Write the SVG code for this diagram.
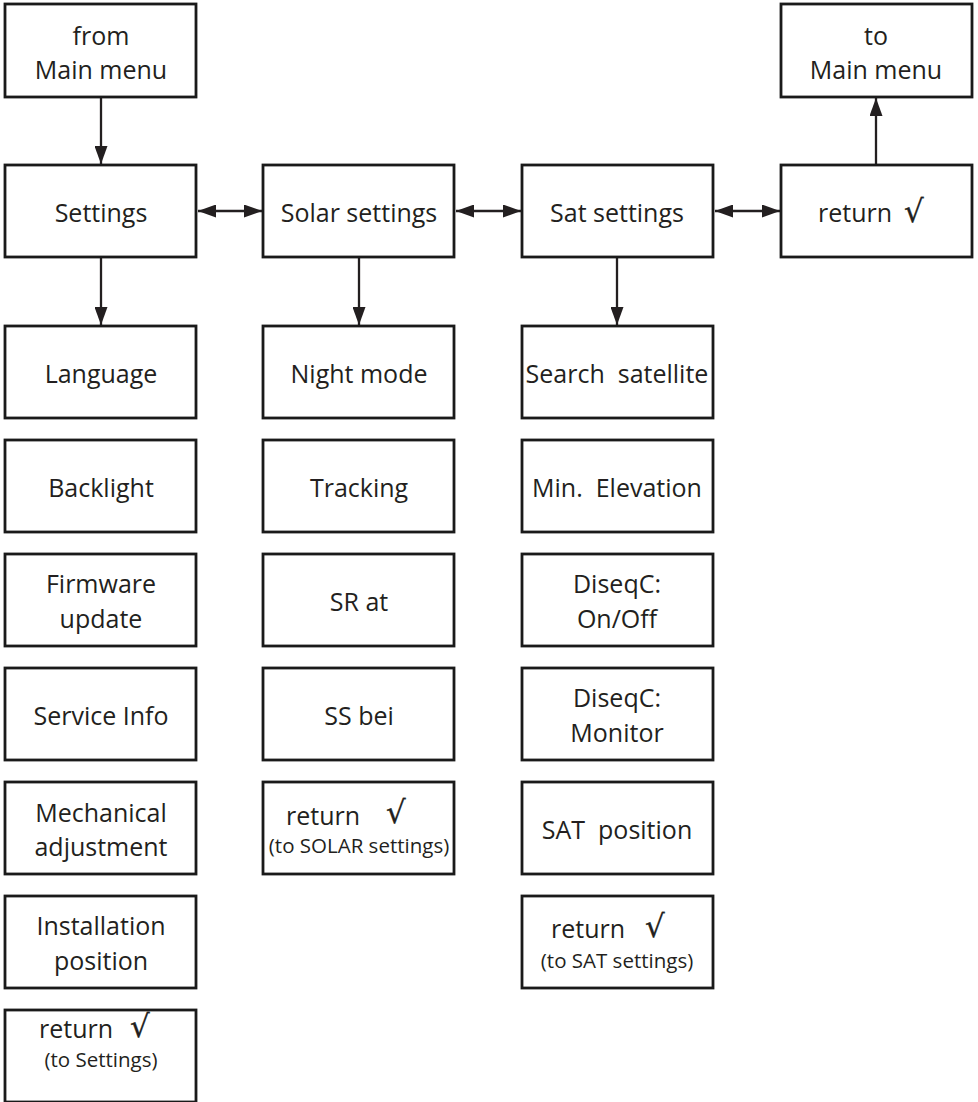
<svg xmlns="http://www.w3.org/2000/svg" width="978" height="1102" viewBox="0 0 978 1102">
  <style>
    .box { fill: #ffffff; stroke: #1a1a1a; stroke-width: 2.8; }
    .lbl { font-family: "Open Sans", "DejaVu Sans", sans-serif; font-size: 25px; fill: #231f20; text-anchor: middle; white-space: pre; }
    .sub { font-family: "Open Sans", "DejaVu Sans", sans-serif; font-size: 20.5px; fill: #231f20; text-anchor: middle; }
    .chk { font-family: "DejaVu Sans", sans-serif; font-size: 31px; fill: #231f20; stroke: #231f20; stroke-width: 0.3; }
    .wire { stroke: #231f20; stroke-width: 2.3; fill: none; }
  </style>
  <defs>
    <marker id="arrow" viewBox="0 0 18 13" refX="18" refY="6.5" markerWidth="18" markerHeight="13" markerUnits="userSpaceOnUse" orient="auto-start-reverse">
      <path d="M0,0 L18,6.5 L0,13 Z" fill="#231f20"/>
    </marker>
  </defs>

  <!-- connectors -->
  <g id="connectors">
    <line class="wire" x1="101" y1="97" x2="101" y2="164" marker-end="url(#arrow)"/>
    <line class="wire" x1="101" y1="257" x2="101" y2="325" marker-end="url(#arrow)"/>
    <line class="wire" x1="359" y1="257" x2="359" y2="325" marker-end="url(#arrow)"/>
    <line class="wire" x1="617" y1="257" x2="617" y2="325" marker-end="url(#arrow)"/>
    <line class="wire" x1="876" y1="165" x2="876" y2="98" marker-end="url(#arrow)"/>
    <line class="wire" x1="198" y1="211" x2="262" y2="211" marker-start="url(#arrow)" marker-end="url(#arrow)"/>
    <line class="wire" x1="456" y1="211" x2="521" y2="211" marker-start="url(#arrow)" marker-end="url(#arrow)"/>
    <line class="wire" x1="715" y1="211" x2="780" y2="211" marker-start="url(#arrow)" marker-end="url(#arrow)"/>
  </g>

  <!-- top row -->
  <g id="from-main-menu">
    <rect class="box" x="5" y="4" width="191" height="93"/>
    <text class="lbl" x="101" y="45">from</text>
    <text class="lbl" x="101" y="79">Main menu</text>
  </g>
  <g id="to-main-menu">
    <rect class="box" x="781" y="4" width="191" height="93"/>
    <text class="lbl" x="876" y="45">to</text>
    <text class="lbl" x="876" y="79">Main menu</text>
  </g>

  <!-- menu row -->
  <g id="settings">
    <rect class="box" x="5" y="165" width="191" height="92"/>
    <text class="lbl" x="101" y="222">Settings</text>
  </g>
  <g id="solar-settings">
    <rect class="box" x="263" y="165" width="191" height="92"/>
    <text class="lbl" x="359" y="222">Solar settings</text>
  </g>
  <g id="sat-settings">
    <rect class="box" x="522" y="165" width="191" height="92"/>
    <text class="lbl" x="617" y="222">Sat settings</text>
  </g>
  <g id="return-main">
    <rect class="box" x="781" y="165" width="191" height="92"/>
    <text class="lbl" x="855" y="222">return</text>
    <text class="chk" x="904" y="222">√</text>
  </g>

  <!-- Settings column -->
  <g id="language">
    <rect class="box" x="5" y="326" width="191" height="92"/>
    <text class="lbl" x="101" y="383">Language</text>
  </g>
  <g id="backlight">
    <rect class="box" x="5" y="440" width="191" height="92"/>
    <text class="lbl" x="101" y="497">Backlight</text>
  </g>
  <g id="firmware-update">
    <rect class="box" x="5" y="554" width="191" height="92"/>
    <text class="lbl" x="101" y="593">Firmware</text>
    <text class="lbl" x="101" y="628">update</text>
  </g>
  <g id="service-info">
    <rect class="box" x="5" y="668" width="191" height="92"/>
    <text class="lbl" x="101" y="725">Service Info</text>
  </g>
  <g id="mechanical-adjustment">
    <rect class="box" x="5" y="782" width="191" height="92"/>
    <text class="lbl" x="101" y="822">Mechanical</text>
    <text class="lbl" x="101" y="856">adjustment</text>
  </g>
  <g id="installation-position">
    <rect class="box" x="5" y="896" width="191" height="92"/>
    <text class="lbl" x="101" y="935">Installation</text>
    <text class="lbl" x="101" y="970">position</text>
  </g>
  <g id="return-settings">
    <rect class="box" x="5" y="1010" width="191" height="92"/>
    <text class="lbl" x="76" y="1038">return</text>
    <text class="chk" x="130" y="1037">√</text>
    <text class="sub" x="101" y="1067">(to Settings)</text>
  </g>

  <!-- Solar settings column -->
  <g id="night-mode">
    <rect class="box" x="263" y="326" width="191" height="92"/>
    <text class="lbl" x="359" y="383">Night mode</text>
  </g>
  <g id="tracking">
    <rect class="box" x="263" y="440" width="191" height="92"/>
    <text class="lbl" x="359" y="497">Tracking</text>
  </g>
  <g id="sr-at">
    <rect class="box" x="263" y="554" width="191" height="92"/>
    <text class="lbl" x="359" y="611">SR at</text>
  </g>
  <g id="ss-bei">
    <rect class="box" x="263" y="668" width="191" height="92"/>
    <text class="lbl" x="359" y="725">SS bei</text>
  </g>
  <g id="return-solar">
    <rect class="box" x="263" y="782" width="191" height="92"/>
    <text class="lbl" x="323" y="825">return</text>
    <text class="chk" x="386" y="823">√</text>
    <text class="sub" x="359" y="853">(to SOLAR settings)</text>
  </g>

  <!-- Sat settings column -->
  <g id="search-satellite">
    <rect class="box" x="522" y="326" width="191" height="92"/>
    <text class="lbl" x="617" y="383">Search  satellite</text>
  </g>
  <g id="min-elevation">
    <rect class="box" x="522" y="440" width="191" height="92"/>
    <text class="lbl" x="617" y="497">Min.  Elevation</text>
  </g>
  <g id="diseqc-onoff">
    <rect class="box" x="522" y="554" width="191" height="92"/>
    <text class="lbl" x="617" y="593">DiseqC:</text>
    <text class="lbl" x="617" y="628">On/Off</text>
  </g>
  <g id="diseqc-monitor">
    <rect class="box" x="522" y="668" width="191" height="92"/>
    <text class="lbl" x="617" y="707">DiseqC:</text>
    <text class="lbl" x="617" y="742">Monitor</text>
  </g>
  <g id="sat-position">
    <rect class="box" x="522" y="782" width="191" height="92"/>
    <text class="lbl" x="617" y="839">SAT  position</text>
  </g>
  <g id="return-sat">
    <rect class="box" x="522" y="896" width="191" height="92"/>
    <text class="lbl" x="588" y="938">return</text>
    <text class="chk" x="645" y="937">√</text>
    <text class="sub" x="617" y="968">(to SAT settings)</text>
  </g>
</svg>
